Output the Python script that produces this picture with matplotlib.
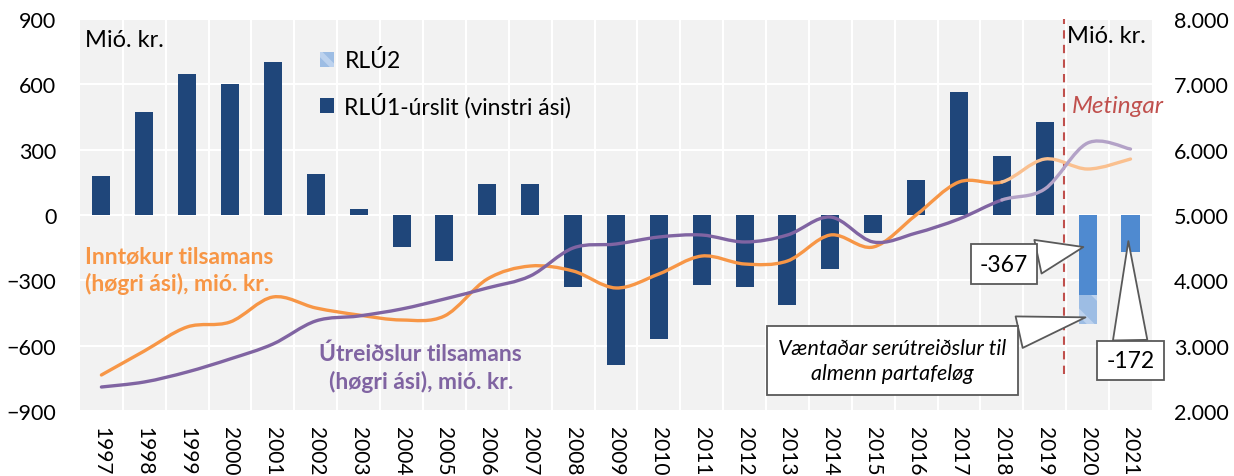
import numpy as np
import matplotlib
matplotlib.use("Agg")
import matplotlib.pyplot as plt
from matplotlib.path import Path
from matplotlib.patches import PathPatch, Patch

plt.rcParams['font.family'] = ['Lato', 'DejaVu Sans']
plt.rcParams['hatch.linewidth'] = 4

years = [str(y) for y in range(1997, 2022)]
rlu1 = [180, 473, 648, 602, 703, 188, 28, -147, -211, 142, 142, -331, -689,
        -570, -322, -331, -413, -248, -83, 161, 565, 271, 427]
rlu1_forecast = [-367, -172]          # 2020, 2021
rlu2_extra = [-133]                   # 2020, on top of -367
inntokur = [2551, 2918, 3286, 3362, 3745, 3577, 3469, 3393, 3454, 4020, 4219,
            4143, 3883, 4097, 4372, 4250, 4296, 4694, 4510, 5000, 5505, 5505,
            5857, 5704, 5857]
utreidslur = [2367, 2444, 2597, 2796, 3025, 3378, 3454, 3561, 3714, 3883, 4066,
              4495, 4556, 4663, 4694, 4587, 4694, 4969, 4587, 4724, 4939, 5230,
              5398, 6102, 6010]

dark_blue = "#1F467A"
mid_blue = "#4F8AD0"
light_blue = "#9DBDE4"
orange, orange_l = "#F79646", "#FAC08F"
purple, purple_l = "#8064A2", "#B3A2C7"
red = "#C0504D"


def smooth_path(xs, ys, i0, i1):
    # excel-like smoothed line (catmull-rom as bezier), segments i0..i1
    n = len(xs)
    pts = np.column_stack([xs, ys]).astype(float)
    verts = [pts[i0]]
    codes = [Path.MOVETO]
    for i in range(i0, i1):
        p0 = pts[max(i - 1, 0)]
        p1 = pts[i]
        p2 = pts[i + 1]
        p3 = pts[min(i + 2, n - 1)]
        verts += [p1 + (p2 - p0) / 6, p2 - (p3 - p1) / 6, p2]
        codes += [Path.CURVE4] * 3
    return Path(verts, codes)


fig = plt.figure(figsize=(12.34, 4.77), dpi=100)
ax = fig.add_axes([0.0648, 0.1363, 0.8687, 0.8217])
ax.set_facecolor("#F2F2F2")
ax.set_axisbelow(True)

x = np.arange(len(years))
ax.bar(x[:len(rlu1)], rlu1, width=0.42, color=dark_blue, zorder=2)
ax.bar(x[-2:], rlu1_forecast, width=0.42, color=mid_blue, zorder=2)
ax.bar(x[-2:-1], rlu2_extra, bottom=rlu1_forecast[0], width=0.42,
       color=light_blue, hatch="\\", edgecolor="#BCD2EE", linewidth=0, zorder=2)

ax.set_xlim(-0.5, len(years) - 0.5)
ax.set_ylim(-900, 900)
ax.set_yticks(range(-900, 901, 300))
ax.set_xticks(x)
ax.set_xticklabels(years, rotation=-90)
ax.set_xticks(x[:-1] + 0.5, minor=True)
ax.grid(axis="y", color="white", linewidth=1.5)
ax.grid(axis="x", which="minor", color="white", linewidth=1.5)
ax.tick_params(axis="y", length=0, pad=17, labelsize=15.5)
ax.tick_params(axis="x", which="both", length=0, pad=11, labelsize=15)
for s in ax.spines.values():
    s.set_visible(False)

# forecast divider
ax.vlines(22.45, -730, 900, colors=red, linestyles=(0, (4, 3)), linewidth=1.5, zorder=3)

ax2 = ax.twinx()
ax2.set_ylim(2000, 8000)
ax2.set_yticks(range(2000, 8001, 1000))
ax2.set_yticklabels([f"{v:,}".replace(",", ".") for v in range(2000, 8001, 1000)])
ax2.tick_params(axis="y", length=0, pad=16, labelsize=15.5)
for s in ax2.spines.values():
    s.set_visible(False)

split = 21  # 2018 onwards drawn lighter
for vals, c_full, c_light in [(inntokur, orange, orange_l), (utreidslur, purple, purple_l)]:
    ax2.add_patch(PathPatch(smooth_path(x, vals, 0, split), fc="none", ec=c_full,
                            lw=2.4, capstyle="round", zorder=4))
    ax2.add_patch(PathPatch(smooth_path(x, vals, split, len(vals) - 1), fc="none",
                            ec=c_light, lw=2.4, capstyle="round", zorder=4))

# texts
ax2.text(0.005, 0.975, "Mió. kr.", transform=ax.transAxes, fontsize=17, va="top", ha="left")
ax2.text(0.921, 0.985, "Mió. kr.", transform=ax.transAxes, fontsize=17, va="top", ha="left")
ax2.text(0.925, 0.78, "Metingar", transform=ax.transAxes, fontsize=17.5, style="italic",
         color=red, va="center", ha="left", clip_on=False)
ax2.text(0.005, 0.36, "Inntøkur tilsamans\n(høgri ási), mió. kr.", transform=ax.transAxes,
         fontsize=16.5, fontweight="bold", color=orange, va="center", ha="left", linespacing=1.3)
ax2.text(0.318, 0.112, "Útreiðslur tilsamans\n(høgri ási), mió. kr.", transform=ax.transAxes,
         fontsize=16.5, fontweight="bold", color=purple, va="center", ha="center", linespacing=1.3)

box = dict(boxstyle="square,pad=0.4", fc="white", ec="#595959", lw=1.3)
wedge = dict(arrowstyle="wedge,tail_width=1.5", fc="white", ec="#595959", lw=1.3,
             shrinkA=0, shrinkB=0)
ax2.annotate("-367", xy=(22.9, -147), xycoords=ax.transData,
             xytext=(21.05, -225), textcoords=ax.transData,
             fontsize=16.5, ha="center", va="center", bbox=box, arrowprops=wedge, zorder=6)
ax2.annotate("-172", xy=(23.95, -120), xycoords=ax.transData,
             xytext=(24.0, -668), textcoords=ax.transData,
             fontsize=16.5, ha="center", va="center", bbox=box, arrowprops=wedge, zorder=6)
ax2.annotate("Væntaðar serútreiðslur til\nalmenn partafeløg", xy=(22.95, -470),
             xycoords=ax.transData, xytext=(18.45, -668), textcoords=ax.transData,
             fontsize=15.5, style="italic", ha="center", va="center", linespacing=1.3,
             bbox=dict(boxstyle="square,pad=0.55", fc="white", ec="#595959", lw=1.3),
             arrowprops=wedge, zorder=6)

handles = [Patch(fc=light_blue, hatch="\\", ec="#BCD2EE", lw=0, label="RLÚ2"),
           Patch(fc=dark_blue, label="RLÚ1-úrslit (vinstri ási)")]
leg = ax2.legend(handles=handles, loc="upper left", bbox_to_anchor=(0.205, 0.975),
                 frameon=False, fontsize=16.5, handlelength=0.6, handleheight=0.6,
                 handletextpad=0.45, labelspacing=0.9)
leg.set_zorder(7)

fig.savefig("out.png", dpi=100)
